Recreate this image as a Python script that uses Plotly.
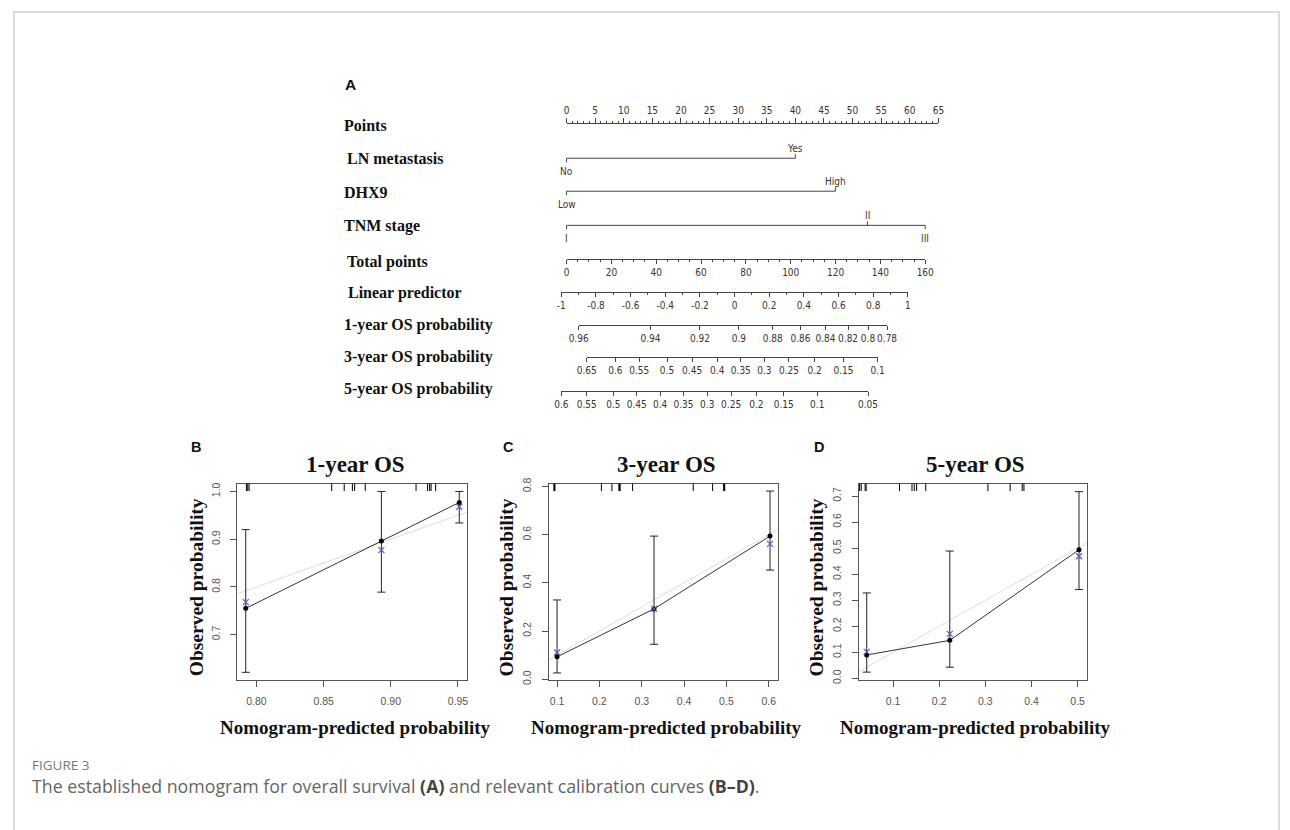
import plotly.graph_objects as go

W, H = 1290, 830

# ---------------- Nomogram (panel A) data ----------------
points_ticks = [0, 5, 10, 15, 20, 25, 30, 35, 40, 45, 50, 55, 60, 65]
ln_levels = ["No", "Yes"]
ln_points = [0, 40]
dhx9_levels = ["Low", "High"]
dhx9_points = [0, 47]
tnm_levels = ["I", "II", "III"]
tnm_points = [0, 52.6, 62.7]
total_ticks = [0, 20, 40, 60, 80, 100, 120, 140, 160]
total_max_in_points = 62.7          # 160 total points sit under 62.7 points
lp_ticks = [-1, -0.8, -0.6, -0.4, -0.2, 0, 0.2, 0.4, 0.6, 0.8, 1]
lp_labels = ["-1", "-0.8", "-0.6", "-0.4", "-0.2", "0", "0.2", "0.4", "0.6", "0.8", "1"]
os1_labels = ["0.96", "0.94", "0.92", "0.9", "0.88", "0.86", "0.84", "0.82", "0.8", "0.78"]
os1_lp = [-0.90, -0.485, -0.20, 0.025, 0.22, 0.38, 0.525, 0.655, 0.77, 0.88]
os3_labels = ["0.65", "0.6", "0.55", "0.5", "0.45", "0.4", "0.35", "0.3", "0.25", "0.2", "0.15", "0.1"]
os3_lp = [-0.853, -0.688, -0.55, -0.39, -0.245, -0.10, 0.036, 0.172, 0.314, 0.462, 0.628, 0.825]
os5_labels = ["0.6", "0.55", "0.5", "0.45", "0.4", "0.35", "0.3", "0.25", "0.2", "0.15", "0.1", "0.05"]
os5_lp = [-1.0, -0.853, -0.70, -0.565, -0.43, -0.295, -0.158, -0.02, 0.126, 0.284, 0.477, 0.77]

# ---------------- Calibration data (panels B-D) ----------------
b_pred = [0.792, 0.893, 0.951]
b_obs = [0.755, 0.896, 0.977]
b_corr = [0.768, 0.877, 0.968]
b_lo = [0.621, 0.789, 0.934]
b_hi = [0.920, 1.000, 1.000]
b_rug = [0.7925, 0.7935, 0.7945, 0.856, 0.8653, 0.8714, 0.8731, 0.881, 0.9188, 0.9274, 0.9289, 0.930, 0.9334]

c_pred = [0.100, 0.329, 0.603]
c_obs = [0.093, 0.292, 0.594]
c_corr = [0.111, 0.292, 0.562]
c_lo = [0.026, 0.145, 0.453]
c_hi = [0.329, 0.594, 0.781]
c_rug = [0.0925, 0.0937, 0.095, 0.2047, 0.2295, 0.246, 0.2473, 0.249, 0.2784, 0.4216, 0.4674, 0.4935, 0.4946, 0.496]

d_pred = [0.043, 0.223, 0.503]
d_obs = [0.090, 0.146, 0.494]
d_corr = [0.102, 0.171, 0.469]
d_lo = [0.024, 0.043, 0.341]
d_hi = [0.328, 0.489, 0.717]
d_rug = [0.0277, 0.0311, 0.0396, 0.0417, 0.114, 0.1411, 0.146, 0.1511, 0.1709, 0.3056, 0.3538, 0.38, 0.3837]


def fx(px):
    return px / W


def fy(py):
    return 1 - py / H


def sfx(i):
    return "" if i == 1 else str(i)


SERIF = "Liberation Serif, Times New Roman, serif"
SANS = "Liberation Sans, Arial, sans-serif"
NARROW = "Liberation Sans Narrow, Arial Narrow, DejaVu Sans Condensed, Liberation Sans, sans-serif"
NOMO_TXT = "#3a3333"

fig = go.Figure()
layout = dict(
    width=W, height=H, autosize=False,
    margin=dict(l=0, r=0, t=0, b=0),
    paper_bgcolor="white", plot_bgcolor="rgba(0,0,0,0)",
    showlegend=False,
)
annotations = []
shapes = []

# ---------------- Calibration panels ----------------
panels = [
    dict(letter="B", title="1-year OS", pred=b_pred, obs=b_obs, corr=b_corr, lo=b_lo, hi=b_hi, rug=b_rug,
         xr=[0.7858, 0.9566], yr=[0.605, 1.0165], xt=[0.80, 0.85, 0.90, 0.95], xfmt=".2f",
         yt=[0.7, 0.8, 0.9, 1.0], box=(231, 464), ylab_x=189, letter_x=189),
    dict(letter="C", title="3-year OS", pred=c_pred, obs=c_obs, corr=c_corr, lo=c_lo, hi=c_hi, rug=c_rug,
         xr=[0.0798, 0.6216], yr=[-0.003, 0.812], xt=[0.1, 0.2, 0.3, 0.4, 0.5, 0.6], xfmt=".1f",
         yt=[0.0, 0.2, 0.4, 0.6, 0.8], box=(547, 780), ylab_x=504, letter_x=506),
    dict(letter="D", title="5-year OS", pred=d_pred, obs=d_obs, corr=d_corr, lo=d_lo, hi=d_hi, rug=d_rug,
         xr=[0.0255, 0.5204], yr=[-0.006, 0.748], xt=[0.1, 0.2, 0.3, 0.4, 0.5], xfmt=".1f",
         yt=[0.0, 0.1, 0.2, 0.3, 0.4, 0.5, 0.6, 0.7], box=(862, 1094), ylab_x=819, letter_x=822),
]
BOX_TOP, BOX_BOT = 484, 683

for i, p in enumerate(panels, start=1):
    xa, ya = f"x{sfx(i)}", f"y{sfx(i)}"
    axis_common = dict(showline=True, linecolor="#555", linewidth=1, mirror=True,
                       ticks="outside", ticklen=6, tickcolor="#555", showgrid=False, zeroline=False,
                       tickfont=dict(family=SANS, size=10.5, color="#555"))
    layout[f"xaxis{sfx(i)}"] = dict(domain=[fx(p["box"][0]), fx(p["box"][1])], range=p["xr"], anchor=ya,
                                    tickvals=p["xt"], tickformat=p["xfmt"], ticklabelstandoff=5, **axis_common)
    layout[f"yaxis{sfx(i)}"] = dict(domain=[fy(BOX_BOT), fy(BOX_TOP)], range=p["yr"], anchor=xa,
                                    tickvals=p["yt"], tickformat=".1f", tickangle=-90, ticklabelstandoff=6,
                                    **axis_common)
    # ideal line
    fig.add_trace(go.Scatter(x=p["xr"], y=p["xr"], xaxis=xa, yaxis=ya, mode="lines",
                             line=dict(color="#dcdcdc", width=1), hoverinfo="skip"))
    # observed with CI
    fig.add_trace(go.Scatter(
        x=p["pred"], y=p["obs"], xaxis=xa, yaxis=ya, mode="lines+markers",
        line=dict(color="#333", width=1), marker=dict(color="black", size=5),
        error_y=dict(type="data", symmetric=False,
                     array=[h - o for h, o in zip(p["hi"], p["obs"])],
                     arrayminus=[o - l for o, l in zip(p["obs"], p["lo"])],
                     width=4, thickness=1, color="#222")))
    # bias-corrected
    fig.add_trace(go.Scatter(x=p["pred"], y=p["corr"], xaxis=xa, yaxis=ya, mode="markers",
                             marker=dict(symbol="x-thin-open", size=6, color="#5a5ab8",
                                         line=dict(color="#5a5ab8", width=1.2))))
    for v in p["rug"]:
        shapes.append(dict(type="line", xref=xa, yref=f"{ya} domain", x0=v, x1=v, y0=0.962, y1=1.0,
                           line=dict(color="black", width=1)))
    box_cx = (p["box"][0] + p["box"][1]) / 2
    annotations += [
        dict(text=f"<b>{p['title']}</b>", x=fx(box_cx + 3), y=fy(465), xref="paper", yref="paper",
             showarrow=False, xanchor="center", yanchor="middle", font=dict(family=SERIF, size=23, color="#111")),
        dict(text="<b>Nomogram-predicted probability</b>", x=fx(box_cx + 3), y=fy(731), xref="paper",
             yref="paper", showarrow=False, xanchor="center", yanchor="middle",
             font=dict(family=SERIF, size=19, color="#111")),
        dict(text="<b>Observed probability</b>", x=fx(p["ylab_x"]), y=fy(589), xref="paper", yref="paper",
             showarrow=False, xanchor="center", yanchor="middle", textangle=-90,
             font=dict(family=SERIF, size=19.5, color="#111")),
        dict(text=f"<b>{p['letter']}</b>", x=fx(p["letter_x"]), y=fy(447), xref="paper", yref="paper",
             showarrow=False, xanchor="center", yanchor="middle", font=dict(family=SANS, size=14.5, color="#111")),
    ]

# ---------------- Nomogram tick rows ----------------
PT0, PT_SCALE = 565.3, (943.0 - 565.3) / 65.0          # px of 0 points, px per point
LP_PX0, LP_SCALE = 560.0, 176.0                         # px of lp=-1, px per lp unit


def lp_px(v):
    return LP_PX0 + (v + 1) * LP_SCALE


tick_font = dict(family=NARROW, size=10, color=NOMO_TXT)
EPS = 1e-6


def row_axis(idx, px0, px1, rng, y_line, tickvals, ticktext, side="bottom", minor=None, ticklen=4):
    ax = dict(domain=[fx(px0), fx(px1)], range=[rng[0] - EPS, rng[1] + EPS], anchor=f"y{idx}", side=side,
              showline=True, linecolor="#444", linewidth=1, ticks="outside", ticklen=ticklen, tickcolor="#444",
              tickmode="array", tickvals=tickvals, ticktext=ticktext, tickangle=0,
              showgrid=False, zeroline=False, tickfont=tick_font, fixedrange=True)
    if minor:
        ax["minor"] = dict(dtick=minor, ticks="outside", ticklen=2, tickcolor="#444", showgrid=False)
    layout[f"xaxis{idx}"] = ax
    if side == "top":
        dom = [fy(y_line) - 0.001, fy(y_line)]
    else:
        dom = [fy(y_line), fy(y_line) + 0.001]
    layout[f"yaxis{idx}"] = dict(domain=dom, range=[0, 1], anchor=f"x{idx}", visible=False, fixedrange=True)
    fig.add_trace(go.Scatter(x=[None], y=[None], xaxis=f"x{idx}", yaxis=f"y{idx}", hoverinfo="skip"))


row_axis(4, PT0, PT0 + 65 * PT_SCALE, [0, 65], 120, points_ticks, [str(t) for t in points_ticks],
         side="top", minor=1, ticklen=5)
row_axis(5, PT0, PT0 + total_max_in_points * PT_SCALE, [0, 160], 256.7, total_ticks,
         [str(t) for t in total_ticks], minor=5)
row_axis(6, lp_px(-1), lp_px(1), [-1, 1], 289.5, lp_ticks, lp_labels, minor=0.1)
row_axis(7, lp_px(os1_lp[0]), lp_px(os1_lp[-1]), [os1_lp[0], os1_lp[-1]], 323, os1_lp, os1_labels)
row_axis(8, lp_px(os3_lp[0]), lp_px(os3_lp[-1]), [os3_lp[0], os3_lp[-1]], 356, os3_lp, os3_labels)
row_axis(9, lp_px(os5_lp[0]), lp_px(os5_lp[-1]), [os5_lp[0], os5_lp[-1]], 390, os5_lp, os5_labels)

# ---------------- Nomogram categorical rows (overlay axis in points units) ----------------
OV_PX0, OV_PX1 = 540.0, 960.0
layout["xaxis10"] = dict(domain=[fx(OV_PX0), fx(OV_PX1)],
                         range=[(OV_PX0 - PT0) / PT_SCALE, (OV_PX1 - PT0) / PT_SCALE],
                         anchor="y10", visible=False, fixedrange=True)
layout["yaxis10"] = dict(domain=[fy(420), fy(60)], range=[420, 60], anchor="x10", visible=False, fixedrange=True)

cat_rows = [
    (ln_levels, ln_points, 154.3, ["down", "up"]),
    (dhx9_levels, dhx9_points, 187.7, ["down", "up"]),
    (tnm_levels, tnm_points, 222.3, ["down", "up", "down"]),
]
for levels, pts, yl, dirs in cat_rows:
    fig.add_trace(go.Scatter(x=[pts[0], pts[-1]], y=[yl, yl], xaxis="x10", yaxis="y10", mode="lines",
                             line=dict(color="#444", width=1), hoverinfo="skip"))
    for lev, pt, d in zip(levels, pts, dirs):
        y_end = yl + 4 if d == "down" else yl - 4
        fig.add_trace(go.Scatter(x=[pt, pt], y=[yl, y_end], xaxis="x10", yaxis="y10", mode="lines",
                                 line=dict(color="#444", width=1), hoverinfo="skip"))
        annotations.append(dict(text=lev, x=pt, y=(yl + 13 if d == "down" else yl - 10), xref="x10", yref="y10",
                                showarrow=False, xanchor="center", yanchor="middle", font=tick_font))

# row labels
row_labels = ["Points", "LN metastasis", "DHX9", "TNM stage", "Total points", "Linear predictor",
              "1-year OS probability", "3-year OS probability", "5-year OS probability"]
row_label_y = [121, 154.5, 189, 223, 259, 291, 323, 355.5, 388]
row_label_x = [337, 340, 337, 337, 340, 341.5, 337, 337, 337]
for txt, yy, xx in zip(row_labels, row_label_y, row_label_x):
    annotations.append(dict(text=f"<b>{txt}</b>", x=fx(xx), y=fy(yy), xref="paper", yref="paper",
                            showarrow=False, xanchor="left", yanchor="middle",
                            font=dict(family=SERIF, size=16, color="#111")))
annotations.append(dict(text="<b>A</b>", x=fx(338), y=fy(80), xref="paper", yref="paper", showarrow=False,
                        xanchor="left", yanchor="middle", font=dict(family=SANS, size=15.5, color="#111")))

# ---------------- Caption and frame ----------------
annotations.append(dict(text="FIGURE 3", x=fx(20), y=fy(769), xref="paper", yref="paper", showarrow=False,
                        xanchor="left", yanchor="middle",
                        font=dict(family="Open Sans, Lato, sans-serif", size=13.5, color="#777")))
annotations.append(dict(
    text="The established nomogram for overall survival <b style='color:#444'>(A)</b> and relevant calibration curves "
         "<b style='color:#444'>(B–D)</b>.",
    x=fx(20), y=fy(790), xref="paper", yref="paper", showarrow=False, xanchor="left", yanchor="middle",
    font=dict(family="Open Sans, Lato, sans-serif", size=17.8, color="#666")))
shapes.append(dict(type="rect", xref="paper", yref="paper", x0=fx(4), x1=fx(1289), y0=fy(900), y1=fy(6),
                   line=dict(color="#d0d0d0", width=1.5), fillcolor="rgba(0,0,0,0)", layer="below"))

layout["annotations"] = annotations
layout["shapes"] = shapes
fig.update_layout(**layout)
fig.write_html("out.html", config={"displayModeBar": False},
               post_script="document.body.style.margin='0px';document.body.style.overflow='hidden';")
